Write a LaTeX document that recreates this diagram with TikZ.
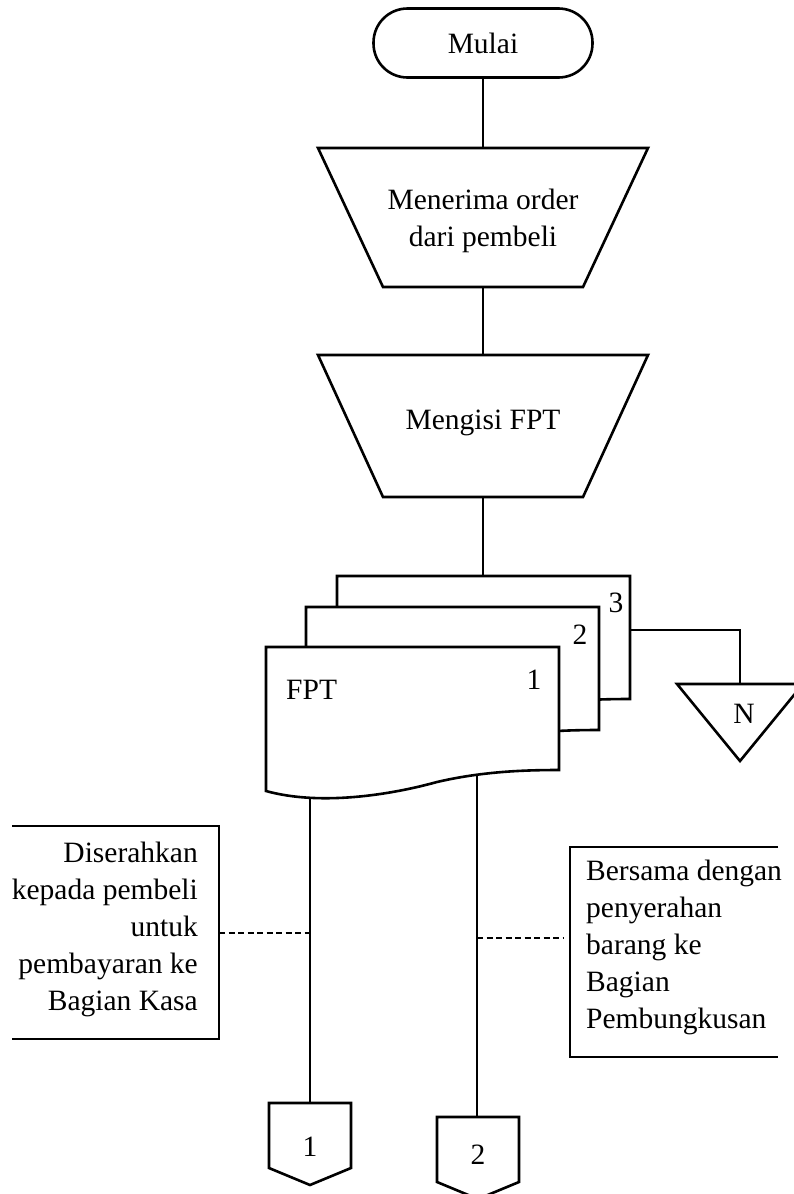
\documentclass[tikz,border=0pt]{standalone}
\usepackage{fontspec}
\setmainfont{Liberation Serif}
\begin{document}
\begin{tikzpicture}[x=1pt,y=-1pt,
  shapeline/.style={line width=2.6pt, line join=miter},
  conn/.style={line width=1.3pt},
  notebox/.style={line width=1.1pt},
  guide/.style={line width=1.1pt, dash pattern=on 6pt off 3.5pt},
  lbl/.style={font=\fontsize{29.5}{37}\selectfont, inner sep=0pt}]
\useasboundingbox (0,0) rectangle (794,1194);

% terminal
\node[shapeline, draw, rounded corners=34pt, minimum width=219pt, minimum height=69pt, lbl] (mulai) at (483,43) {Mulai};

% manual operation 1
\draw[shapeline] (318,148) -- (648,148) -- (583,287) -- (383,287) -- cycle;
\node[lbl, align=center] (menerima) at (483,221) {Menerima order\\dari pembeli};
\coordinate (t1top) at (483,148);
\coordinate (t1bot) at (483,287);

% manual operation 2
\draw[shapeline] (318,355) -- (648,355) -- (583,497) -- (383,497) -- cycle;
\node[lbl] (mengisi) at (483,423) {Mengisi FPT};
\coordinate (t2top) at (483,355);
\coordinate (t2bot) at (483,497);

% document coordinates
\coordinate (d3top) at (483,576);
\coordinate (d3right) at (629,630);
\coordinate (d1a) at (310,785);
\coordinate (d1b) at (477,765);
\coordinate (ntop) at (740,684);
\coordinate (c1top) at (310,1103);
\coordinate (c2top) at (477,1117);

% connectors
\draw[conn] (mulai.south) -- (t1top);
\draw[conn] (t1bot) -- (t2top);
\draw[conn] (t2bot) -- (d3top);
\draw[conn] (d3right) -| (ntop);
\draw[conn] (d1a) -- (c1top);
\draw[conn] (d1b) -- (c2top);

% documents (back to front)
\newcommand\fptpaper[2]{%
  \draw[shapeline, fill=white, shift={(#1,#2)}] (266,647) -- (559,647) -- (559,770)
    .. controls (520,770) and (480,772) .. (437,782)
    .. controls (390,795) and (320,806) .. (266,791) -- cycle;}
\fptpaper{71}{-71}
\fptpaper{40}{-40}
\fptpaper{0}{0}
\node[lbl] (n3) at (616,603) {3};
\node[lbl] (n2) at (580,635) {2};
\node[lbl] (n1) at (534,680) {1};
\node[lbl, anchor=west] (fpt) at (286,690) {FPT};

% file triangle
\draw[shapeline] (677,684) -- (803,684) -- (740,761) -- cycle;
\node[lbl] (nfile) at (744,714) {N};

% off-page connectors
\draw[shapeline] (269,1103) -- (351,1103) -- (351,1168) -- (310,1185) -- (269,1168) -- cycle;
\node[lbl] (off1) at (310,1147) {1};
\draw[shapeline] (437,1117) -- (519,1117) -- (519,1182) -- (478,1199) -- (437,1182) -- cycle;
\node[lbl] (off2) at (478,1155) {2};

% left annotation
\draw[notebox] (12,826) -- (219,826) -- (219,1039) -- (12,1039);
\coordinate (la) at (219,933);
\coordinate (lb) at (310,933);
\draw[guide] (la) -- (lb);
\node[lbl, align=right, anchor=east] (annL) at (198,929) {Diserahkan\\kepada pembeli\\untuk\\pembayaran ke\\Bagian Kasa};

% right annotation
\draw[notebox] (778,847) -- (570,847) -- (570,1057) -- (778,1057);
\coordinate (ra) at (477,938);
\coordinate (rb) at (563,938);
\draw[guide] (ra) -- (rb);
\node[lbl, align=left, anchor=west] (annR) at (586,947) {Bersama dengan\\penyerahan\\barang ke\\Bagian\\Pembungkusan};
\end{tikzpicture}
\end{document}
